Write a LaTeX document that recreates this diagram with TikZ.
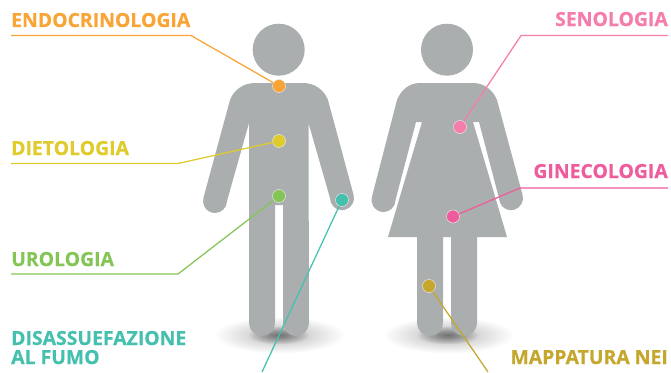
\documentclass[tikz,border=0pt]{standalone}
\usepackage{fontspec}
\setmainfont{Open Sans}[BoldFeatures={FakeBold=0.5}]
\definecolor{body}{HTML}{ABAEAE}
\definecolor{cOrange}{HTML}{F9A435}
\definecolor{cYellow}{HTML}{DFCB2C}
\definecolor{cGreen}{HTML}{85C557}
\definecolor{cTeal}{HTML}{45C0AE}
\definecolor{cPink}{HTML}{F47DAB}
\definecolor{cMagenta}{HTML}{EF5C9D}
\definecolor{cGold}{HTML}{C4A72C}
\tikzset{
  figure/.style={fill=body,draw=none},
  spot/.style={circle,draw=white!70!body,line width=0.5pt,inner sep=0pt,minimum size=13pt},
  leader/.style={line width=1.25pt},
  lab/.style={inner sep=0pt,font=\bfseries\fontsize{19.4}{20}\selectfont},
  softwide/.style={fill=black,fill opacity=0.012,draw=none},
  softcore/.style={fill=black,fill opacity=0.03,draw=none}
}
\begin{document}
\begin{tikzpicture}[x=1pt,y=-1pt]
\useasboundingbox (0,0) rectangle (671,372);
% shadows
\foreach \cx in {280,449}{
  \foreach \k in {1,...,24}{
    \path[softwide] (\cx,335.5) ellipse ({64*\k/24} and {18*\k/24});
  }
  \foreach \k in {1,...,16}{
    \path[softcore] (\cx-1,335.5) ellipse ({30*\k/16} and {9*\k/16});
  }
}
% man
\fill[figure] (278.7,49.7) circle (26);
\fill[figure] (255,83) -- (303,83) .. controls (315,83) and (324,90) .. (328,100)
  -- (353.6,195) arc[start angle=-15,end angle=180,x radius=12,y radius=12] -- (308.5,123) -- (309,323)
  arc[start angle=0,end angle=180,x radius=13,y radius=13] -- (283,205) -- (275,205) -- (275,323)
  arc[start angle=0,end angle=180,x radius=13,y radius=13] -- (249,123) -- (227,201)
  arc[start angle=0,end angle=195,x radius=12,y radius=12] -- (230,100) .. controls (234,90) and (243,83) .. (255,83) -- cycle;
% woman
\fill[figure] (447,49.7) circle (26);
\fill[figure] (420,83) -- (473,83) .. controls (484,83) and (493,90) .. (497,100)
  -- (522.6,195) arc[start angle=-15,end angle=180,x radius=12,y radius=12] -- (479,122) -- (473,122)
  -- (507,237) -- (477,237) -- (477,323)
  arc[start angle=0,end angle=180,x radius=13,y radius=13] -- (451,237) -- (443,237) -- (443,323)
  arc[start angle=0,end angle=180,x radius=13,y radius=13] -- (417,237) -- (388,237) -- (422,122) -- (416,122)
  -- (395.5,200) arc[start angle=0,end angle=195,x radius=12,y radius=12] -- (397,100) .. controls (401,90) and (409,83) .. (420,83) -- cycle;
% spots
\node[spot,fill=cOrange] (s1) at (279,86) {};
\node[spot,fill=cYellow] (s2) at (279,141) {};
\node[spot,fill=cGreen] (s3) at (279,196) {};
\node[spot,fill=cTeal] (s4) at (342,200) {};
\node[spot,fill=cPink] (s5) at (460,127) {};
\node[spot,fill=cMagenta] (s6) at (453,216.5) {};
\node[spot,fill=cGold] (s7) at (429,286) {};
% labels
\node[lab,text=cOrange,anchor=base west] (t1) at (11,27) {ENDOCRINOLOGIA};
\node[lab,text=cYellow,anchor=base west] (t2) at (11,155) {DIETOLOGIA};
\node[lab,text=cGreen,anchor=base west] (t3) at (11,266) {UROLOGIA};
\node[lab,text=cTeal,anchor=base west] (t4) at (11,345) {DISASSUEFAZIONE};
\node[lab,text=cTeal,anchor=base west] (t4b) at (11,364) {AL FUMO};
\node[lab,text=cPink,anchor=base east] (t5) at (668,26) {SENOLOGIA};
\node[lab,text=cMagenta,anchor=base east] (t6) at (668,178) {GINECOLOGIA};
\node[lab,text=cGold,anchor=base east] (t7) at (668,364) {MAPPATURA NEI};
% connector ends
\coordinate (a1) at (11,35.5); \coordinate (b1) at (191,35.5);
\coordinate (a2) at (11,163.5); \coordinate (b2) at (178,163.5);
\coordinate (a3) at (11,274); \coordinate (b3) at (178,274);
\coordinate (e4) at (262,372);
\coordinate (a5) at (668,35.5); \coordinate (b5) at (521,35.5);
\coordinate (a6) at (668,188); \coordinate (b6) at (520,188);
\coordinate (e7) at (488,372);
\draw[leader,cOrange] (a1) -- (b1) -- (s1);
\draw[leader,cYellow] (a2) -- (b2) -- (s2);
\draw[leader,cGreen] (a3) -- (b3) -- (s3);
\draw[leader,cTeal] (e4) -- (s4);
\draw[leader,cPink] (a5) -- (b5) -- (s5);
\draw[leader,cMagenta] (a6) -- (b6) -- (s6);
\draw[leader,cGold] (e7) -- (s7);
\end{tikzpicture}
\end{document}
